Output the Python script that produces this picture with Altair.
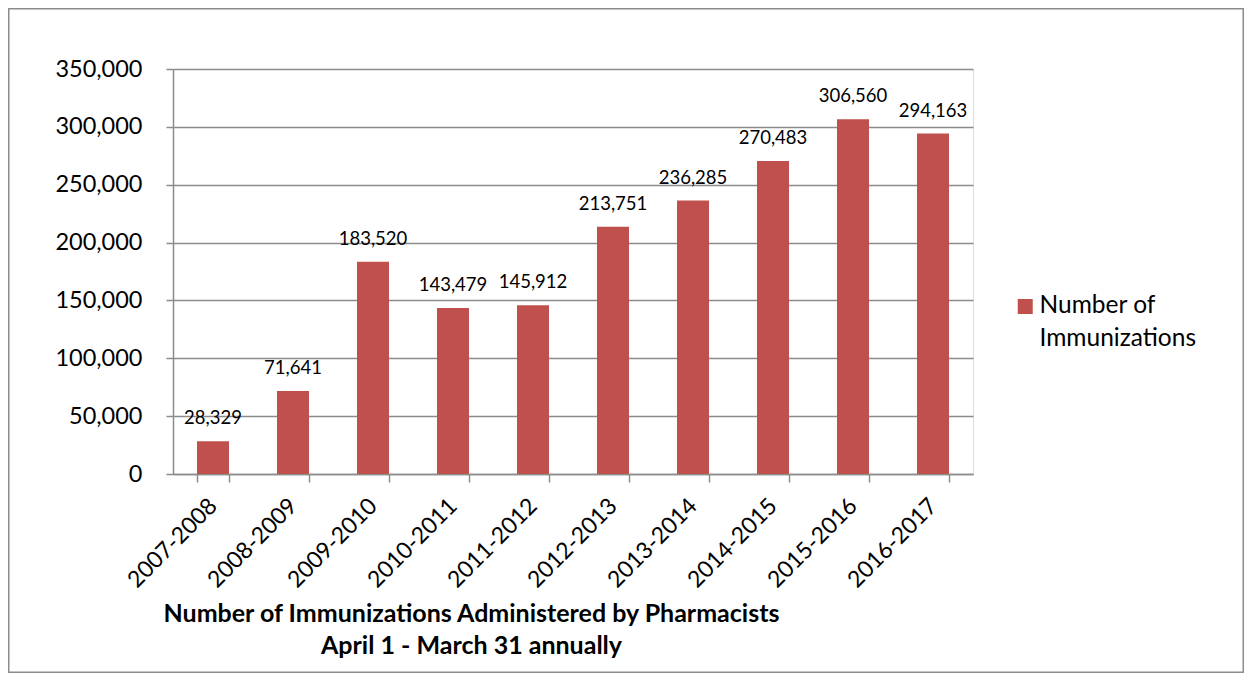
import json
import altair as alt
import pandas as pd

# ---- data ----
periods = ["2007-2008", "2008-2009", "2009-2010", "2010-2011", "2011-2012",
           "2012-2013", "2013-2014", "2014-2015", "2015-2016", "2016-2017"]
immunizations = [28329, 71641, 183520, 143479, 145912,
                 213751, 236285, 270483, 306560, 294163]
series_name = "Number of Immunizations"
legend_lines = ["Number of", "Immunizations"]
y_ticks = [0, 50000, 100000, 150000, 200000, 250000, 300000, 350000]
title_lines = ["Number of Immunizations Administered by Pharmacists",
               "April 1 - March 31 annually"]

df = pd.DataFrame({"period": periods, "value": immunizations, "series": series_name})

FONT = "Lato"
BAR = "#C0504D"
GRID = "#8c8c8c"

x = alt.X(
    "period:N", sort=periods,
    scale=alt.Scale(paddingInner=0.6, paddingOuter=0.3),
    axis=alt.Axis(
        title=title_lines, labelAngle=-45, labelAlign="right", labelBaseline="middle",
        labelFont=FONT, labelFontSize=23, labelColor="black", labelPadding=20,
        tickBand="extent", tickSize=8, tickColor=GRID, tickWidth=1.5,
        domainColor=GRID, domainWidth=1.5,
        titleFont=FONT, titleFontSize=25, titleFontWeight="bold", titleColor="black",
        titleX=298, titleY=147, titleAlign="center", titleBaseline="alphabetic",
        titleLineHeight=32,
    ),
)
y = alt.Y(
    "value:Q",
    scale=alt.Scale(domain=[0, 350000], nice=False),
    axis=alt.Axis(
        title=None, values=y_ticks, format=",.0f",
        labelFont=FONT, labelFontSize=23.5, labelColor="black", labelPadding=24,
        tickSize=7, tickColor=GRID, tickWidth=1.5,
        domainColor=GRID, domainWidth=1.5,
        grid=True, gridColor=GRID, gridWidth=1.5,
    ),
)

bars = alt.Chart(df).mark_bar(color=BAR).encode(
    x=x, y=y,
    color=alt.Color(
        "series:N", scale=alt.Scale(range=[BAR]),
        legend=alt.Legend(
            title=None, orient="none", legendX=840, legendY=232, padding=0,
            labelExpr=json.dumps(legend_lines),
            labelFont=FONT, labelFontSize=24.5, labelColor="black",
            labelBaseline="alphabetic", labelOffset=2, labelLimit=400,
            symbolType="M-1,-1.9H1V0.1H-1Z", symbolSize=225, symbolStrokeWidth=0,
        ),
    ),
)

labels = alt.Chart(df).mark_text(
    dy=-17, baseline="alphabetic", font=FONT, fontSize=18.5, color="black"
).encode(x=x, y=y, text=alt.Text("value:Q", format=",.0f"))

frame = alt.Chart(pd.DataFrame({"a": [0]})).mark_rect(
    fillOpacity=0, stroke=GRID, strokeWidth=1.5
).encode(
    x=alt.value(-164.25), x2=alt.value(1070.25),
    y=alt.value(-60.25), y2=alt.value(603.25),
)

chart = alt.layer(bars, labels, frame).properties(
    width=800, height=405,
    autosize=alt.AutoSizeParams(type="none"),
    padding={"left": 165, "top": 61, "right": 271, "bottom": 199},
).configure_view(strokeWidth=0).configure(
    style={"guide-label": {"lineHeight": 33}}
)

chart.save("out.html", embed_options={"renderer": "svg", "actions": False})
